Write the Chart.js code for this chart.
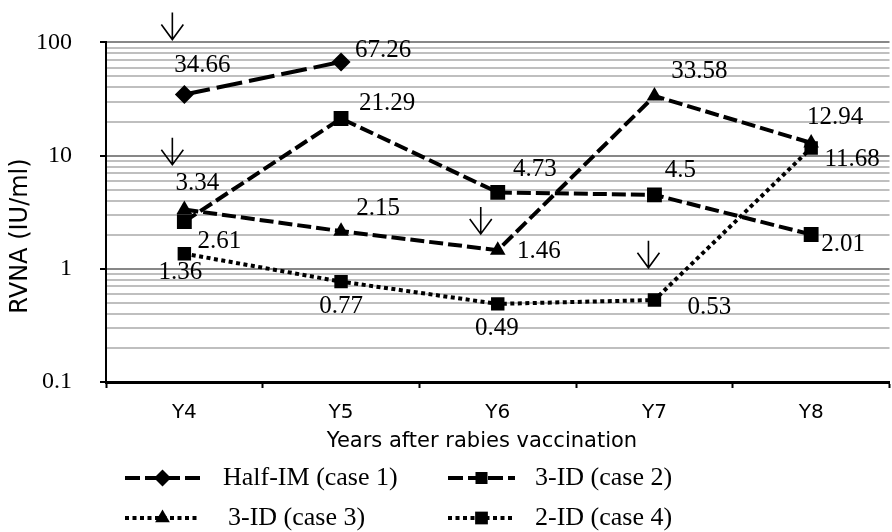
<!DOCTYPE html>
<html><head><meta charset="utf-8">
<script src="https://cdn.jsdelivr.net/npm/chart.js@4.4.1/dist/chart.umd.min.js"></script>
<style>
html,body{margin:0;padding:0;background:#fff;overflow:hidden;width:892px;height:532px}
#wrap{width:900px;height:532px;position:relative}
</style>
</head><body><div id="wrap"><canvas id="c"></canvas></div>
<script>
// ---- data ----
const categories = ['Y4', 'Y5', 'Y6', 'Y7', 'Y8'];
const seriesNames = ['Half-IM (case 1)', '3-ID (case 2)', '3-ID (case 3)', '2-ID (case 4)'];
const case1HalfIM = [34.66, 67.26, null, null, null];
const case2ThreeID = [2.61, 21.29, 4.73, 4.5, 2.01];
const case3ThreeID = [3.34, 2.15, 1.46, 33.58, 12.94];
const case4TwoID = [1.36, 0.77, 0.49, 0.53, 11.68];
const yTickValues = [0.1,0.2,0.3,0.4,0.5,0.6,0.7,0.8,0.9,1,2,3,4,5,6,7,8,9,10,20,30,40,50,60,70,80,90,100];
const yMajorTicks = [0.1, 1, 10, 100];
const yMajorLabels = ['0.1', '1', '10', '100'];
const xTitle = 'Years after rabies vaccination';
const yTitle = 'RVNA (IU/ml)';
// arrows marking events: category + value of arrow tip
const arrowCats = ['Y4', 'Y4', 'Y6', 'Y7'];
const arrowTipValues = [106, 8.3, 2.03, 1.02];

// ---- styling (offsets in px, not data) ----
const labelOffsets = [
  [[18,-29],[42,-11],null,null,null],
  [[35,20],[46,-15],[37,-23],[26,-24],[32,10]],
  [[13,-26],[37,-23],[41,1],[45,-25],[24,-25]],
  [[-4,19],[0,25],[-1,25],[55,7],[41,11]]
];
const arrowDx = [-12, -12, -17, -6];
const legendPos = [
  {x0:125, x1:200, tx:223, y:478},
  {x0:448, x1:515, tx:535, y:478},
  {x0:125, x1:200, tx:228, y:518},
  {x0:448, x1:515, tx:535, y:518}
];
const legendRadius = [8.5, 8.5, 8.5, 9];
const SERIF = '"Liberation Serif", "Times New Roman", serif';
const SANS = '"DejaVu Sans", Verdana, sans-serif';

function isMajor(v){ const l = Math.log10(v); return Math.abs(l - Math.round(l)) < 1e-9; }

const annot = {
  id: 'annot',
  afterDatasetsDraw(chart) {
    const ctx = chart.ctx, xs = chart.scales.x, ys = chart.scales.y;
    ctx.save();
    ctx.fillStyle = '#000'; ctx.strokeStyle = '#000';
    // data labels
    ctx.font = '25px ' + SERIF; ctx.textAlign = 'center'; ctx.textBaseline = 'middle';
    chart.data.datasets.forEach((ds, i) => {
      const meta = chart.getDatasetMeta(i);
      ds.data.forEach((v, j) => {
        if (v == null) return;
        const p = meta.data[j], o = labelOffsets[i][j] || [0,-20];
        ctx.fillText(String(v), p.x + o[0], p.y + o[1]);
      });
    });
    // arrows
    ctx.lineWidth = 1.6; ctx.setLineDash([]);
    arrowCats.forEach((c, k) => {
      const ax = xs.getPixelForValue(categories.indexOf(c)) + arrowDx[k];
      const ty = ys.getPixelForValue(arrowTipValues[k]);
      ctx.beginPath();
      ctx.moveTo(ax, ty - 27); ctx.lineTo(ax, ty);
      ctx.moveTo(ax - 11, ty - 15); ctx.lineTo(ax, ty); ctx.lineTo(ax + 11, ty - 15);
      ctx.stroke();
    });
    // axis titles
    ctx.font = '21px ' + SANS; ctx.textAlign = 'center'; ctx.textBaseline = 'middle';
    ctx.fillText(xTitle, 482, 442);
    ctx.save(); ctx.translate(21, 236); ctx.rotate(-Math.PI/2);
    ctx.font = '24px ' + SANS; ctx.fillText(yTitle, 0, 0); ctx.restore();
    // legend
    chart.data.datasets.forEach((ds, i) => {
      const L = legendPos[i];
      ctx.save();
      ctx.lineWidth = 4; ctx.lineCap = 'butt'; ctx.setLineDash(ds.legendDash);
      ctx.beginPath(); ctx.moveTo(L.x0, L.y); ctx.lineTo(L.x1, L.y); ctx.stroke();
      ctx.setLineDash([]);
      Chart.helpers.drawPoint(ctx, {pointStyle: ds.pointStyle, radius: legendRadius[i], rotation: 0, borderWidth: 0}, (L.x0 + L.x1)/2, L.y);
      ctx.restore();
      ctx.font = '26px ' + SERIF; ctx.textAlign = 'left'; ctx.textBaseline = 'middle';
      ctx.fillText(ds.label, L.tx, L.y);
    });
    ctx.restore();
  }
};

function mk(label, data, style, radius, dash, width, legendDash) {
  return { label, data, borderColor:'#000', backgroundColor:'#000', borderWidth: width,
    borderDash: dash, borderCapStyle:'butt', tension:0, fill:false,
    pointStyle: style, pointRadius: radius, pointHoverRadius: radius,
    pointBackgroundColor:'#000', pointBorderColor:'#000', pointBorderWidth:0,
    legendDash };
}

new Chart(document.getElementById('c'), {
  type: 'line',
  data: {
    labels: categories,
    datasets: [
      mk(seriesNames[0], case1HalfIM, 'rectRot', 9.5, [26,7], 4, [15,5]),
      mk(seriesNames[1], case2ThreeID, 'rect', 10.5, [14,5], 4, [15,5]),
      mk(seriesNames[2], case3ThreeID, 'triangle', 9, [14,5], 4, [4,3.5]),
      mk(seriesNames[3], case4TwoID, 'rect', 9.5, [4,3.5], 4, [4,3.5])
    ]
  },
  options: {
    responsive: true, maintainAspectRatio: false, animation: false,
    layout: { padding: { top: 40, left: 0, right: 0, bottom: 0 } },
    plugins: { legend: { display: false }, tooltip: { enabled: false } },
    scales: {
      x: {
        type: 'category', offset: true,
        grid: { offset: true, drawOnChartArea: false, tickLength: 6, tickColor: '#000', tickWidth: 2, color: '#000' },
        border: { color: '#000', width: 3 },
        ticks: { font: { family: SANS, size: 20 }, color: '#000', padding: 13, maxRotation: 0 },
        afterFit(s) { s.height = 150; }
      },
      y: {
        type: 'logarithmic', min: 0.1, max: 100,
        afterBuildTicks(s) { s.ticks = yTickValues.map(v => ({ value: v, major: isMajor(v) })); },
        ticks: {
          autoSkip: false, font: { family: SERIF, size: 24 }, color: '#000', padding: 28,
          callback(v) { const k = yMajorTicks.findIndex(m => Math.abs(m - v) < 1e-9); return k >= 0 ? yMajorLabels[k] : ''; }
        },
        grid: {
          color: c => (c.tick && isMajor(c.tick.value)) ? '#878787' : '#bfbfbf',
          lineWidth: 2, tickLength: 6, tickWidth: 2,
          tickColor: c => (c.tick && isMajor(c.tick.value)) ? '#000' : 'rgba(0,0,0,0)'
        },
        border: { color: '#000', width: 2 },
        afterFit(s) { s.width = 106; }
      }
    }
  },
  plugins: [annot]
});
</script></body></html>
